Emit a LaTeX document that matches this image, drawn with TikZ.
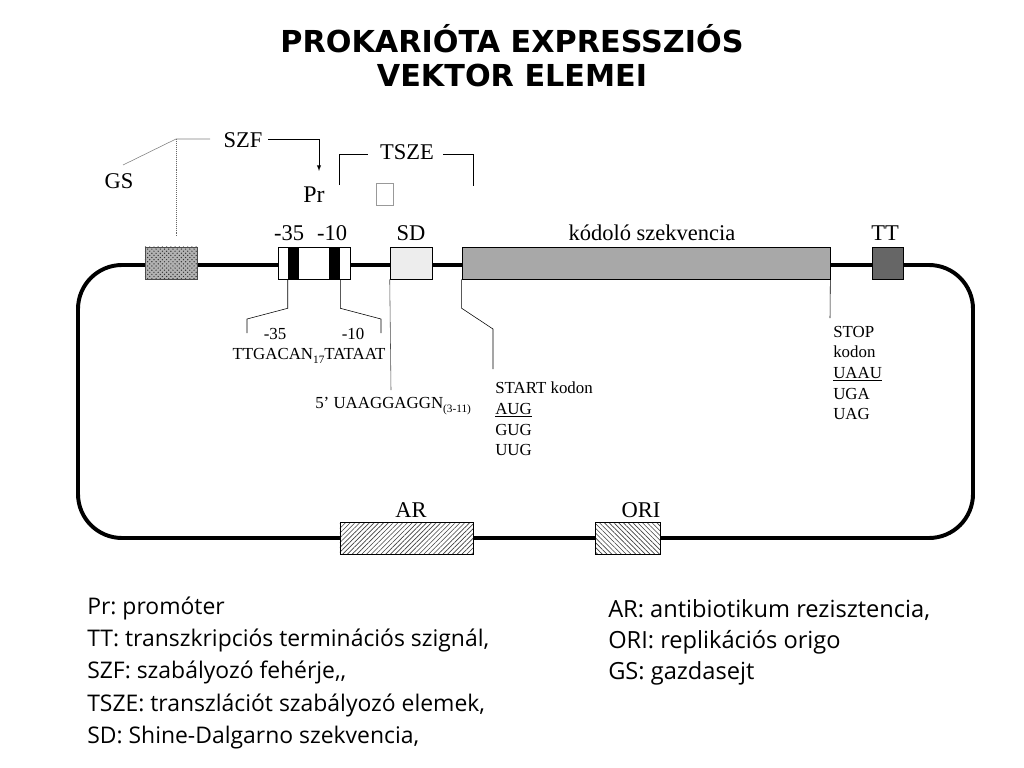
\documentclass[tikz,border=0pt]{standalone}
\usepackage{fontspec}
\setmainfont{Liberation Serif}
\newfontfamily\notefont{Open Sans}
\newfontfamily\titlefont{DejaVu Sans}
\usetikzlibrary{patterns,patterns.meta}
\newcommand{\lowsub}[1]{\raisebox{-0.6ex}{\fontsize{8}{9}\selectfont #1}}

\begin{document}
\begin{tikzpicture}[x=0.025cm,y=-0.025cm,
  lbl/.style={font=\fontsize{16}{19}\selectfont,inner sep=0pt,anchor=base},
  sml/.style={font=\fontsize{12}{14.6}\selectfont,inner sep=0pt},
  box/.style={draw,minimum height=0.8cm,inner sep=0pt},
  band/.style={fill=black,minimum width=0.275cm,minimum height=0.8cm,inner sep=0pt},
  hatch/.style={box,preaction={fill=white},pattern={Lines[angle=#1,distance=2.4pt,line width=0.45pt]},pattern color=black!75},
  ttl/.style={font=\titlefont\bfseries\fontsize{21.5}{24}\selectfont,inner sep=0pt,anchor=base},
  note/.style={font=\notefont\frenchspacing\fontsize{16.3}{22.8}\selectfont,inner sep=0pt,align=left,anchor=north west}]
\useasboundingbox (0,0) rectangle (1024,768);
\node (title1) [ttl] at (512,53) {PROKARIÓTA EXPRESSZIÓS};
\node (title2) [ttl] at (512,87) {VEKTOR ELEMEI};
\draw[line width=2.8pt,rounded corners=1.1cm] (78,265) rectangle (973,538);
\node (gs) [box,draw=black!70,minimum width=1.3cm,preaction={fill=black!30},pattern=crosshatch dots,pattern color=black!80] at (171,263) {};
\node (prom) [box,fill=white,minimum width=1.8cm] at (314,263) {};
\node (b35) [band] at (293.5,263) {};
\node (b10) [band] at (334.5,263) {};
\node (sd) [box,fill=black!7,minimum width=1.05cm] at (411,263) {};
\node (cod) [box,fill=black!34,minimum width=9.2cm] at (646,263) {};
\node (tt) [box,fill=black!60,minimum width=0.775cm] at (887.5,263) {};
\node (ar) [hatch=45,minimum width=3.325cm] at (406.5,538) {};
\node (ori) [hatch=135,minimum width=1.625cm] at (627.5,538) {};
\node (gsl) [lbl] at (119,189) {GS};
\node (szf) [lbl] at (243,148) {SZF};
\node (pr) [lbl,font=\fontsize{17}{20}\selectfont] at (314,202) {Pr};
\node (tsze) [lbl] at (407,159) {TSZE};
\node (gap) [draw=black!40,minimum width=0.425cm,minimum height=0.55cm,inner sep=0pt] at (384.5,194) {};
\node (l35) [lbl] at (289,240) {-35};
\node (l10) [lbl] at (332,240) {-10};
\node (sdl) [lbl] at (411,240) {SD};
\node (codl) [lbl] at (652,240) {kódoló szekvencia};
\node (ttl) [lbl] at (885,240) {TT};
\node (arl) [lbl] at (411,517) {AR};
\node (oril) [lbl] at (641,517) {ORI};
\coordinate (fork) at (176,139);
\coordinate (gsend) at (123,165);
\coordinate (szfa) at (210,139);
\coordinate (szfb) at (268,139);
\coordinate (prtop) at (319,171);
\draw[black!60,densely dotted] (fork) -- (176,237);
\draw[black!50] (gsend) -- (fork) -- (szfa);
\draw[-latex] (szfb) -| (prtop);
\draw (339,185) |- (368,154);
\draw (443,154) -| (473,186);
\draw (b35.south west) -- ++(0,29) -- (247,319) -- (247,333);
\draw (b10.south east) -- ++(0,29) -- (381,319) -- (381,333);
\draw[black!70] (sd.south west) -- (391,390);
\draw (cod.south west) -- ++(0,29) -- (493,329) -- (493,369);
\draw (cod.south east) -- (830,318);
\node (s35) [sml,anchor=base] at (275,339) {-35};
\node (s10) [sml,anchor=base] at (353,339) {-10};
\node (seq) [sml,anchor=base] at (309,359) {TTGACAN\lowsub{17}TATAAT};
\node (sdseq) [sml,anchor=base west] at (315,408) {5’ UAAGGAGGN\lowsub{(3-11)}};
\node (start) [sml,anchor=north west,align=left] at (495,382) {START kodon\\\underline{AUG}\\GUG\\UUG};
\node (stop) [sml,anchor=north west,align=left] at (833,326) {STOP\\kodon\\\underline{UAAU}\\UGA\\UAG};
\node (notes) [note] at (87,597) {Pr: promóter\\TT: transzkripciós terminációs szignál,\\SZF: szabályozó fehérje,,\\TSZE: transzlációt szabályozó elemek,\\SD: Shine-Dalgarno szekvencia,};
\node (notes2) [note,font=\notefont\frenchspacing\fontsize{16.8}{22}\selectfont] at (608,599) {AR: antibiotikum rezisztencia,\\ORI: replikációs origo\\GS: gazdasejt};
\end{tikzpicture}
\end{document}
